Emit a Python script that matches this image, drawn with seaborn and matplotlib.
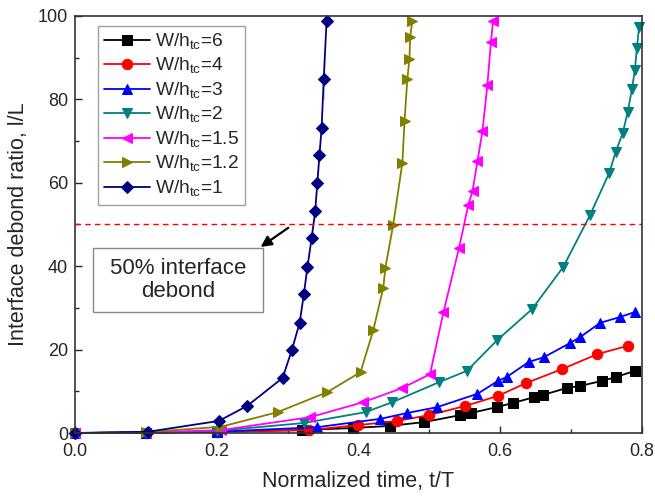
import numpy as np
import pandas as pd
import matplotlib
matplotlib.use("Agg")
import matplotlib.pyplot as plt
import seaborn as sns

sns.set_style("ticks")
plt.rcParams['font.family'] = ['Liberation Sans', 'DejaVu Sans']

# data
t_6 = [0.0, 0.1, 0.2, 0.321, 0.393, 0.444, 0.492, 0.544, 0.559, 0.595, 0.618,
       0.648, 0.66, 0.694, 0.713, 0.744, 0.763, 0.79]
d_6 = [0.0, 0.1, 0.3, 0.7, 1.2, 1.7, 2.6, 4.3, 4.8, 6.2, 7.2,
       8.6, 9.1, 10.8, 11.3, 12.5, 13.4, 14.9]

t_4 = [0.0, 0.1, 0.2, 0.33, 0.4, 0.455, 0.5, 0.551, 0.597, 0.637, 0.687, 0.737, 0.78]
d_4 = [0.0, 0.1, 0.3, 0.7, 1.9, 2.9, 4.3, 6.5, 8.9, 12.0, 15.3, 18.9, 20.9]

t_3 = [0.0, 0.1, 0.2, 0.342, 0.431, 0.469, 0.511, 0.568, 0.597, 0.609, 0.64,
       0.662, 0.699, 0.713, 0.741, 0.769, 0.79]
d_3 = [0.0, 0.1, 0.3, 1.4, 3.4, 4.8, 6.2, 9.4, 12.5, 13.4, 17.0,
       18.2, 21.6, 23.0, 26.4, 27.8, 29.0]

t_2 = [0.0, 0.1, 0.2, 0.323, 0.41, 0.448, 0.514, 0.553, 0.596, 0.645, 0.689,
       0.727, 0.754, 0.763, 0.773, 0.78, 0.786, 0.79, 0.793, 0.796]
d_2 = [0.0, 0.1, 0.5, 2.4, 5.0, 7.4, 12.2, 14.9, 22.3, 29.7, 39.8,
       52.3, 62.4, 67.4, 71.9, 77.0, 82.5, 87.0, 92.3, 97.4]

t_15 = [0.0, 0.1, 0.206, 0.332, 0.407, 0.462, 0.501, 0.52, 0.542, 0.555, 0.561,
        0.568, 0.575, 0.582, 0.587, 0.59]
d_15 = [0.0, 0.1, 0.7, 3.8, 7.4, 10.8, 14.1, 29.0, 44.4, 54.7, 58.0,
        65.2, 72.4, 83.5, 93.8, 98.8]

t_12 = [0.0, 0.1, 0.206, 0.286, 0.356, 0.403, 0.421, 0.435, 0.438, 0.449, 0.462,
        0.465, 0.469, 0.472, 0.473, 0.476]
d_12 = [0.0, 0.2, 1.5, 5.0, 9.8, 14.6, 24.7, 34.8, 39.6, 49.9, 64.8,
        74.8, 84.9, 89.7, 95.0, 98.8]

t_1 = [0.0, 0.103, 0.203, 0.243, 0.293, 0.306, 0.317, 0.323, 0.328, 0.334, 0.339,
       0.342, 0.345, 0.348, 0.351, 0.351, 0.355]
d_1 = [0.0, 0.3, 2.9, 6.5, 13.2, 19.9, 26.4, 33.3, 39.8, 46.8, 53.2,
       60.0, 66.7, 73.1, 79.9, 89.7, 98.8]

series = [
    ('W/h$_{\\mathregular{tc}}$=6', t_6, d_6, 'black', 's'),
    ('W/h$_{\\mathregular{tc}}$=4', t_4, d_4, '#ff0000', 'o'),
    ('W/h$_{\\mathregular{tc}}$=3', t_3, d_3, '#0000ff', '^'),
    ('W/h$_{\\mathregular{tc}}$=2', t_2, d_2, '#008080', 'v'),
    ('W/h$_{\\mathregular{tc}}$=1.5', t_15, d_15, '#ff00ff', '<'),
    ('W/h$_{\\mathregular{tc}}$=1.2', t_12, d_12, '#808000', '>'),
    ('W/h$_{\\mathregular{tc}}$=1', t_1, d_1, '#000080', 'D'),
]

fig = plt.figure(figsize=(6.55, 4.96), dpi=100)
ax = fig.add_axes([0.1145, 0.127, 0.8655, 0.841])

for name, t, d, col, mk in series:
    df = pd.DataFrame({'t': t, 'd': d})
    sns.lineplot(data=df, x='t', y='d', sort=False, color=col, marker=mk,
                 markersize=7.5 if mk != 'D' else 6.5, markeredgecolor=col,
                 linewidth=1.3, label=name, ax=ax, clip_on=False)

ax.axhline(50, color='red', linestyle='--', linewidth=1, dashes=(4, 3))

ax.set_xlim(0, 0.8)
ax.set_ylim(0, 100)
ax.set_xticks([0.0, 0.2, 0.4, 0.6, 0.8])
ax.set_xticklabels(['0.0', '0.2', '0.4', '0.6', '0.8'])
ax.set_yticks([0, 20, 40, 60, 80, 100])
ax.set_xticks(np.arange(0.1, 0.8, 0.2), minor=True)
ax.set_yticks(np.arange(10, 100, 20), minor=True)
ax.tick_params(which='both', direction='in', labelsize=13, top=False, right=False)
ax.tick_params(which='major', length=5, width=1)
ax.tick_params(axis='x', which='major', pad=7)
ax.tick_params(axis='y', which='major', pad=5)
ax.tick_params(which='minor', length=3, width=1)
for sp in ax.spines.values():
    sp.set_linewidth(1.2)
    sp.set_color('#333333')

ax.set_xlabel('Normalized time, t/T', fontsize=15.5, labelpad=8)
ax.set_ylabel('Interface debond ratio, l/L', fontsize=15.5, labelpad=6)

leg = ax.legend(loc='upper left', bbox_to_anchor=(0.03, 0.99), fontsize=13.8,
                frameon=True, fancybox=False, edgecolor='#888888',
                handlelength=2.4, handletextpad=0.3, labelspacing=0.22,
                borderpad=0.3, borderaxespad=0.3)
leg.get_frame().set_linewidth(1)

# annotation box for the 50 % line
ax.add_patch(plt.Rectangle((0.025, 29.0), 0.24, 15.4, fill=True, fc='white',
                           ec='#888888', lw=1, zorder=5))
ax.text(0.145, 36.7, '50% interface\ndebond', fontsize=16, ha='center',
        va='center', linespacing=1.15, zorder=6)
ax.annotate('', xy=(0.262, 44.6), xytext=(0.301, 49.2),
            arrowprops=dict(arrowstyle='-|>', color='black', lw=1.6,
                            mutation_scale=16, shrinkA=0, shrinkB=0),
            zorder=7)

fig.savefig('out.png', dpi=100)
